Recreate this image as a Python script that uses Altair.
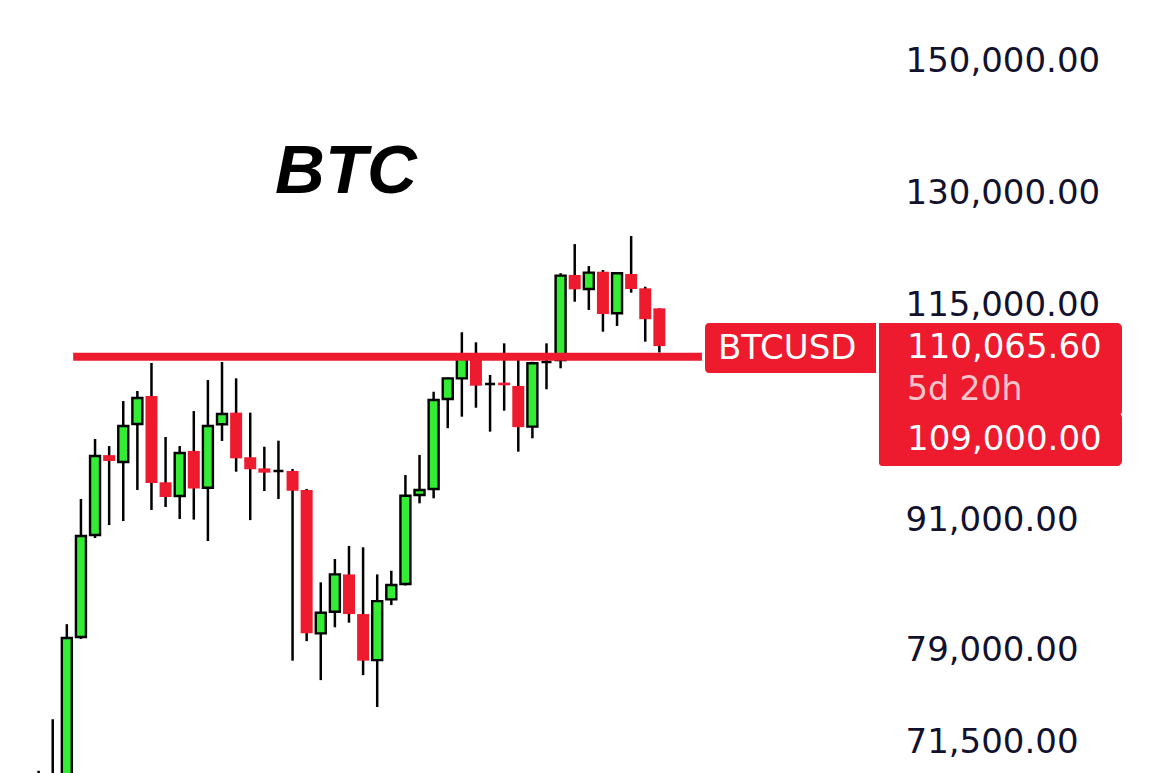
import altair as alt
import pandas as pd

# ---- data (weekly BTCUSD candles, log price scale) ----
week = list(range(45))
open_ = [63000, 67000, 68800, 80170, 89600, 97740, 97010, 101110, 104250, 94890,
         93480, 98190, 94330, 101080, 102370, 97510, 96340, 96070, 96070, 94100,
         80490, 82410, 85830, 82200, 78180, 83530, 84930, 93580, 94200, 103900,
         106270, 108900, 105620, 105770, 105390, 100820, 108180, 108400, 118940, 117130,
         119360, 114070, 119060, 117220, 114690]
high = [69300, 73300, 81300, 93180, 99470, 98710, 103670, 104810, 108060, 99690,
        98710, 102550, 106070, 108180, 106270, 102370, 98640, 99290, 96270, 94200,
        85090, 87280, 88530, 88400, 85830, 86170, 95640, 97760, 104730, 106370,
        111740, 110520, 106660, 110400, 108420, 108200, 110400, 119160, 123010, 120100,
        119580, 119250, 124090, 117420, 114690]
low = [58900, 64800, 67500, 80000, 89300, 90570, 90970, 94100, 92070, 92370,
       91170, 91110, 89010, 99260, 95990, 91060, 93990, 93180, 78130, 79810,
       76490, 81020, 81430, 76910, 74280, 83010, 84800, 92740, 93250, 100650,
       101920, 102920, 100270, 102590, 98110, 99550, 105010, 107440, 115520, 114490,
       111810, 112510, 116660, 110600, 109300]
close = [67000, 68800, 80080, 89490, 97640, 97120, 100890, 104010, 94820, 93380,
         97970, 94250, 100890, 102220, 97400, 96240, 95890, 96070, 94020, 80490,
         82320, 85830, 82200, 78130, 83370, 84850, 93510, 94100, 103790, 106270,
         108900, 105420, 105620, 105470, 100760, 108030, 108180, 118850, 117090, 119240,
         113980, 119160, 117130, 113340, 110065.6]

axis_values = [150000, 130000, 115000, 91000, 79000, 71500]

level_price = [108800]
level_start = [2.45]
level_end = [47.02]

symbol = "BTCUSD"
last_price_text = "110,065.60"
countdown_text = "5d 20h"
level_text = "109,000.00"
title_text = "BTC"

RED = "#ee1b2e"
GREEN = "#35ec35"
NAVY = "#12122f"

df = pd.DataFrame({"week": week, "open": open_, "high": high, "low": low, "close": close})
level_df = pd.DataFrame({"start": level_start, "end": level_end, "price": level_price})

xscale = alt.Scale(domain=[-2.3826, 59.285], nice=False, zero=False)
yscale = alt.Scale(type="log", domain=[69130, 160480], nice=False, zero=False)
yaxis = alt.Axis(orient="right", values=axis_values, format=",.2f",
                 labelFont="DejaVu Sans", labelFontSize=34, labelColor=NAVY,
                 labelPadding=25, labelLimit=400, ticks=False, domain=False, grid=False,
                 title=None, labelOverlap=False, labelFlush=False, labelAlign="left",
                 labelBaseline="middle")

base = alt.Chart(df).encode(x=alt.X("week:Q", scale=xscale, axis=None))

wicks = base.mark_rule(color="black", strokeWidth=2.5, clip=True).encode(
    y=alt.Y("low:Q", scale=yscale, axis=yaxis), y2="high:Q")

up = base.transform_filter("datum.close >= datum.open").mark_bar(
    width=10, color=GREEN, stroke="black", strokeWidth=2.4, clip=True
).encode(y=alt.Y("open:Q", scale=yscale, axis=yaxis), y2="close:Q")

down = base.transform_filter("datum.close < datum.open").mark_bar(
    width=12, color=RED, clip=True
).encode(y=alt.Y("open:Q", scale=yscale, axis=yaxis), y2="close:Q")

level = alt.Chart(level_df).mark_rule(color=RED, strokeWidth=8, strokeCap="butt").encode(
    x=alt.X("start:Q", scale=xscale, axis=None), x2="end:Q",
    y=alt.Y("price:Q", scale=yscale, axis=yaxis))

one = pd.DataFrame({"k": [0]})

sym_box = alt.Chart(one).mark_rect(color=RED, cornerRadiusTopLeft=4, cornerRadiusBottomLeft=4).encode(
    x=alt.value(705), x2=alt.value(876), y=alt.value(323), y2=alt.value(373))
price_box = alt.Chart(one).mark_rect(color=RED, cornerRadiusTopRight=5, cornerRadiusBottomRight=5).encode(
    x=alt.value(879), x2=alt.value(1122), y=alt.value(323), y2=alt.value(416))
level_box = alt.Chart(one).mark_rect(color=RED, cornerRadiusTopRight=5, cornerRadiusBottomRight=5,
                                     cornerRadiusBottomLeft=3).encode(
    x=alt.value(879), x2=alt.value(1122), y=alt.value(413), y2=alt.value(466))

def label(txt, x, y, size, color):
    return alt.Chart(pd.DataFrame({"t": [txt]})).mark_text(
        align="left", baseline="middle", font="DejaVu Sans", fontSize=size, color=color
    ).encode(text="t:N", x=alt.value(x), y=alt.value(y))

sym_label = label(symbol, 718, 349, 34, "white")
price_label = label(last_price_text, 907, 348, 34, "white")
count_label = label(countdown_text, 907, 390, 33, "#f8c4cb")
level_label = label(level_text, 907, 440, 34, "white")

title = alt.Chart(pd.DataFrame({"t": [title_text]})).mark_text(
    align="center", baseline="alphabetic", font="Liberation Sans", fontSize=69,
    fontStyle="italic", fontWeight="bold", color="black"
).encode(text="t:N", x=alt.value(346), y=alt.value(193))

chart = alt.layer(
    wicks, up, down, level, sym_box, price_box, level_box,
    sym_label, price_label, count_label, level_label, title
).properties(width=880, height=773, padding=0, background="white").configure_view(stroke=None)

chart.save("out.html", embed_options={"renderer": "svg", "actions": False})
